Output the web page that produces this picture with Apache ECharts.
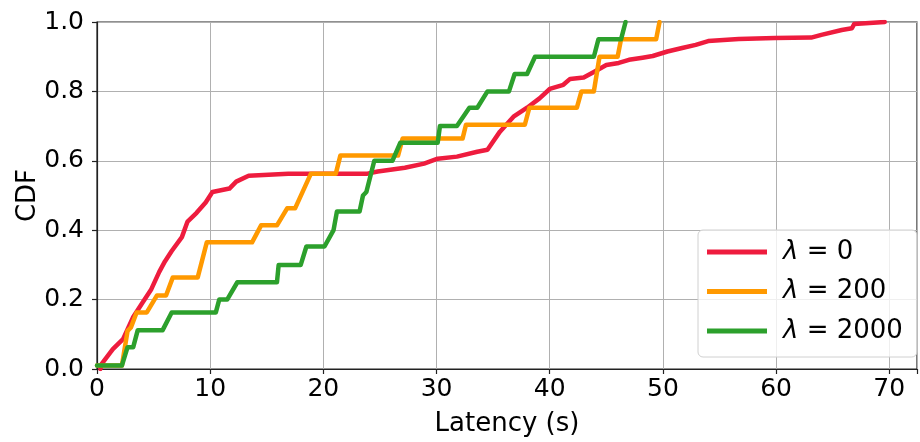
<!DOCTYPE html>
<html><head><meta charset="utf-8">
<script src="https://cdn.jsdelivr.net/npm/echarts@6/dist/echarts.min.js"></script>
<style>html,body{margin:0;padding:0;background:#fff}#c{width:920px;height:442px}</style>
</head><body><div id="c"></div>
<script>
var xTicks = [0, 10, 20, 30, 40, 50, 60, 70];
var yTicks = [0.0, 0.2, 0.4, 0.6, 0.8, 1.0];
var seriesNames = ['0', '200', '2000'];

var lam0X = [0.3, 0.4, 1.4, 2.3, 3.2, 4.0, 4.8, 5.5, 6.0, 6.6, 7.5, 8.0, 8.8, 9.6, 10.2, 11.7, 12.3, 13.4, 16.9, 23.9, 24.8, 27.2, 28.9, 30.1, 31.8, 33.6, 34.5, 35.6, 36.8, 38.0, 39.1, 40.0, 41.2, 41.8, 43.0, 43.9, 45.0, 46.1, 47.0, 48.2, 49.1, 50.4, 51.7, 52.9, 54.0, 56.7, 59.9, 63.1, 64.0, 65.8, 66.7, 66.9, 69.6];
var lam0Y = [0.0, 0.014, 0.057, 0.086, 0.15, 0.19, 0.23, 0.28, 0.31, 0.34, 0.38, 0.425, 0.45, 0.48, 0.51, 0.52, 0.54, 0.557, 0.563, 0.563, 0.569, 0.58, 0.592, 0.606, 0.612, 0.626, 0.632, 0.684, 0.727, 0.753, 0.78, 0.807, 0.819, 0.836, 0.84, 0.856, 0.876, 0.882, 0.891, 0.897, 0.902, 0.915, 0.925, 0.934, 0.945, 0.951, 0.954, 0.955, 0.963, 0.977, 0.982, 0.994, 1.0];

var lam200X = [0, 2.2, 2.7, 3.0, 3.5, 4.4, 5.3, 6.1, 6.7, 8.9, 9.7, 13.7, 14.5, 15.9, 16.8, 17.5, 18.9, 21.1, 21.5, 26.6, 27.0, 32.3, 32.6, 37.8, 38.2, 42.4, 42.8, 43.9, 44.4, 46.0, 46.3, 49.4, 49.7];
var lam200Y = [0.01, 0.01, 0.11, 0.12, 0.163, 0.163, 0.212, 0.212, 0.264, 0.264, 0.365, 0.365, 0.414, 0.414, 0.463, 0.463, 0.563, 0.563, 0.615, 0.615, 0.664, 0.664, 0.704, 0.704, 0.753, 0.753, 0.80, 0.80, 0.90, 0.90, 0.95, 0.95, 1.0];

var lam2000X = [0, 2.2, 2.7, 3.2, 3.6, 5.8, 6.6, 10.5, 10.8, 11.5, 12.4, 15.9, 16.05, 18.0, 18.5, 20.1, 20.9, 21.2, 23.2, 23.5, 23.8, 24.5, 26.1, 26.8, 30.1, 30.3, 31.8, 32.9, 33.6, 34.5, 36.4, 36.9, 38.0, 38.7, 43.9, 44.3, 46.3, 46.7];
var lam2000Y = [0.01, 0.01, 0.063, 0.063, 0.112, 0.112, 0.163, 0.163, 0.2, 0.2, 0.25, 0.25, 0.30, 0.30, 0.353, 0.353, 0.40, 0.454, 0.454, 0.50, 0.51, 0.60, 0.60, 0.652, 0.652, 0.70, 0.70, 0.753, 0.753, 0.80, 0.80, 0.85, 0.85, 0.90, 0.90, 0.95, 0.95, 1.0];

function zip(a, b) { return a.map(function (v, i) { return [v, b[i]]; }); }

var colors = ['#EE1C3E', '#FF9900', '#2CA02C'];
var FONT = 'DejaVu Sans';
var chart = echarts.init(document.getElementById('c'), null, {renderer: 'canvas'});
var datas = [zip(lam0X, lam0Y), zip(lam200X, lam200Y), zip(lam2000X, lam2000Y)];

chart.setOption({
  animation: false,
  backgroundColor: '#fff',
  grid: {left: 97, top: 22, right: -3, bottom: 72, show: true, borderColor: '#222', borderWidth: 1.2, backgroundColor: 'transparent'},
  xAxis: {
    type: 'value', min: 0, max: 72.45, interval: 10,
    name: 'Latency (s)', nameLocation: 'middle', nameGap: 42, nameMoveOverlap: false,
    nameTextStyle: {fontFamily: FONT, fontSize: 26, color: '#000'},
    axisLine: {show: true, lineStyle: {color: '#222', width: 1.2}},
    axisTick: {show: true, length: 5, inside: false, lineStyle: {color: '#222', width: 1.2}},
    axisLabel: {fontFamily: FONT, fontSize: 25, color: '#000', margin: 8,
      formatter: function (v) { return xTicks.indexOf(v) >= 0 ? String(v) : ''; }},
    splitLine: {show: true, lineStyle: {color: '#b0b0b0', width: 1}}
  },
  yAxis: {
    type: 'value', min: 0, max: 1, interval: 0.2,
    name: 'CDF', nameLocation: 'middle', nameGap: 56, nameMoveOverlap: false,
    nameTextStyle: {fontFamily: FONT, fontSize: 26, color: '#000'},
    axisLine: {show: true, lineStyle: {color: '#222', width: 1.2}},
    axisTick: {show: true, length: 5, lineStyle: {color: '#222', width: 1.2}},
    axisLabel: {fontFamily: FONT, fontSize: 25, color: '#000', margin: 13,
      formatter: function (v) { return v.toFixed(1); }},
    splitLine: {show: true, lineStyle: {color: '#b0b0b0', width: 1}}
  },
  legend: {
    show: true, orient: 'vertical', left: 698, top: 230,
    padding: [9, 14, 13, 9],
    backgroundColor: 'rgba(255,255,255,0.8)',
    borderColor: '#d0d0d0', borderWidth: 1, borderRadius: 5,
    itemWidth: 60, itemHeight: 5, itemGap: 13.5,
    icon: 'rect',
    data: seriesNames.map(function (n) { return 'λ=' + n; }),
    formatter: function (name) { return '{i|λ}{t| = ' + name.slice(2) + '}'; },
    textStyle: {
      padding: [0, 0, 0, 11],
      rich: {
        i: {fontFamily: FONT, fontStyle: 'italic', fontSize: 26, lineHeight: 26, color: '#000'},
        t: {fontFamily: FONT, fontSize: 26, lineHeight: 26, color: '#000'}
      }
    }
  },
  series: datas.map(function (d, i) {
    return {
      name: 'λ=' + seriesNames[i], type: 'line', data: d,
      showSymbol: false, symbol: 'none',
      lineStyle: {color: colors[i], width: 4.5, join: 'round', cap: 'round'},
      itemStyle: {color: colors[i]},
      clip: true, z: 2 + i
    };
  })
});
</script></body></html>
